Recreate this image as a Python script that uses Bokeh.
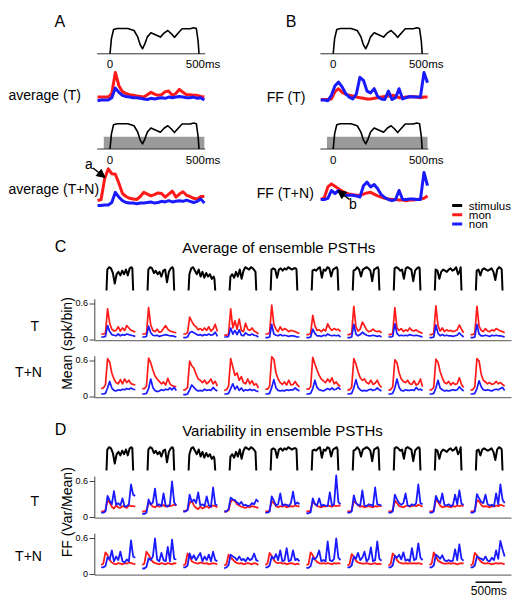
from bokeh.plotting import figure
from bokeh.layouts import column
from bokeh.models import Range1d, Arrow, NormalHead
from bokeh.core.properties import value
from bokeh.embed import file_html
from bokeh.resources import INLINE
import math

FONT = "Liberation Sans"
RED = "#ff1a1a"
BLUE = "#1a1aff"

# ---------------- data: panels A and B (time in ms re. stimulus onset) ----------------
T_AB = [-70, -50, -30, -10, 10, 30, 50, 70, 90, 110, 130, 150, 170, 190, 210, 230,
        250, 270, 290, 310, 330, 350, 370, 390, 410, 430, 450, 470, 490, 510, 530]

STIM_T = [0, 8, 20, 40, 100, 135, 155, 170, 183, 195, 210, 230, 255, 283, 305, 325,
          345, 362, 387, 405, 450, 470, 485, 495, 500]
STIM_V = [0, 0.6, 0.96, 1.0, 1.0, 0.92, 0.68, 0.35, 0.2, 0.38, 0.67, 0.83, 0.75, 0.66,
          0.83, 0.92, 0.79, 0.65, 0.85, 0.99, 0.99, 1.03, 1.0, 0.5, 0]
NOISE_ON, NOISE_OFF = -35, 530
STIM_AXIS = [-72, 535]
STIM_TICKS = [0, 500]
STIM_TICK_LABELS = ["0", "500ms"]

AVG_T_MON = [0.09, 0.09, 0.09, 0.09, 0.15, 0.50, 0.28, 0.18, 0.15, 0.13, 0.12, 0.11, 0.10, 0.09, 0.13, 0.17,
             0.14, 0.12, 0.13, 0.18, 0.19, 0.12, 0.15, 0.22, 0.17, 0.13, 0.13, 0.12, 0.12, 0.10, 0.09]
AVG_T_NON = [0.03, 0.04, 0.04, 0.04, 0.08, 0.24, 0.17, 0.12, 0.10, 0.09, 0.08, 0.08, 0.07, 0.06, 0.05, 0.07,
             0.06, 0.07, 0.08, 0.07, 0.09, 0.08, 0.09, 0.10, 0.09, 0.08, 0.08, 0.09, 0.07, 0.08, 0.04]
AVG_TN_MON = [0.13, 0.15, 0.50, 0.66, 0.58, 0.57, 0.42, 0.25, 0.20, 0.17, 0.16, 0.15, 0.20, 0.27, 0.24, 0.21,
              0.23, 0.26, 0.25, 0.19, 0.24, 0.29, 0.19, 0.24, 0.28, 0.22, 0.20, 0.17, 0.16, 0.20, 0.20]
AVG_TN_NON = [0.05, 0.05, 0.06, 0.06, 0.10, 0.27, 0.19, 0.13, 0.10, 0.09, 0.09, 0.08, 0.09, 0.09, 0.10, 0.11,
              0.09, 0.10, 0.12, 0.11, 0.13, 0.11, 0.12, 0.13, 0.12, 0.14, 0.12, 0.10, 0.12, 0.16, 0.09]

FF_T_MON = [0.15, 0.15, 0.15, 0.16, 0.28, 0.33, 0.27, 0.24, 0.22, 0.21, 0.19, 0.18, 0.17, 0.16, 0.16, 0.17,
            0.18, 0.19, 0.20, 0.21, 0.22, 0.21, 0.18, 0.18, 0.19, 0.19, 0.20, 0.19, 0.18, 0.19, 0.19]
FF_T_NON = [0.14, 0.14, 0.13, 0.22, 0.38, 0.44, 0.36, 0.25, 0.19, 0.16, 0.24, 0.52, 0.47, 0.29, 0.26, 0.33,
            0.20, 0.16, 0.15, 0.29, 0.15, 0.18, 0.33, 0.16, 0.18, 0.20, 0.19, 0.19, 0.19, 0.60, 0.43]
FF_TN_MON = [0.15, 0.18, 0.36, 0.41, 0.37, 0.33, 0.29, 0.26, 0.24, 0.23, 0.22, 0.22, 0.24, 0.26, 0.27, 0.24,
             0.21, 0.19, 0.17, 0.16, 0.15, 0.15, 0.14, 0.14, 0.13, 0.14, 0.14, 0.15, 0.16, 0.17, 0.21]
FF_TN_NON = [0.15, 0.15, 0.17, 0.30, 0.25, 0.30, 0.23, 0.22, 0.22, 0.22, 0.21, 0.19, 0.38, 0.44, 0.36, 0.40,
             0.33, 0.23, 0.18, 0.15, 0.13, 0.15, 0.30, 0.15, 0.15, 0.16, 0.16, 0.15, 0.15, 0.60, 0.38]

LEGEND_LABELS = ["stimulus", "mon", "non"]
LEGEND_COLORS = ["black", RED, BLUE]

# ---------------- data: panels C and D (10 stimuli) ----------------
N_COND = 10
PERIOD = 770  # ms between successive stimuli in the concatenated display
SC_T = [0, 15, 50, 85, 120, 155, 190, 225, 260, 295, 330, 365, 400, 435, 470, 485, 500]
STIMS = [
    [0, 0.9, 1.0, 0.95, 0.75, 0.3, 0.7, 0.8, 0.65, 0.85, 0.7, 0.9, 0.65, 0.95, 1.0, 0.95, 0],
    [0, 0.9, 1.0, 0.95, 0.75, 0.85, 0.7, 0.8, 0.6, 0.85, 0.9, 0.35, 0.8, 0.95, 1.0, 0.9, 0],
    [0, 0.7, 0.95, 1.0, 0.85, 0.7, 0.9, 0.6, 0.8, 0.55, 0.75, 0.6, 0.7, 0.5, 0.6, 0.5, 0],
    [0, 0.6, 0.7, 0.55, 0.8, 0.6, 0.9, 0.5, 0.85, 1.0, 0.95, 0.9, 1.0, 0.95, 0.85, 0.8, 0],
    [0, 0.9, 0.95, 0.9, 0.55, 0.9, 0.95, 0.85, 0.95, 0.9, 1.0, 0.95, 0.9, 0.95, 0.95, 0.9, 0],
    [0, 0.85, 0.9, 0.85, 0.95, 1.0, 0.55, 0.9, 0.85, 1.0, 0.95, 0.6, 0.9, 0.95, 1.0, 0.9, 0],
    [0, 0.85, 0.9, 1.0, 0.9, 0.6, 0.9, 0.95, 1.0, 0.95, 0.85, 0.4, 0.9, 0.95, 1.0, 0.9, 0],
    [0, 0.95, 1.0, 0.95, 0.85, 0.9, 0.5, 0.95, 1.0, 0.95, 0.9, 0.4, 0.85, 0.95, 1.0, 0.95, 0],
    [0, 0.9, 0.85, 0.5, 0.8, 0.9, 0.85, 0.8, 0.9, 0.95, 0.85, 0.9, 1.0, 0.7, 0.85, 1.0, 0],
    [0, 0.85, 0.9, 0.65, 0.9, 0.95, 0.9, 0.85, 0.9, 0.95, 0.8, 0.45, 0.9, 1.0, 0.95, 0.9, 0],
]
TC = [-100, -60, -20, 20, 60, 100, 140, 180, 220, 260, 300, 340, 380, 420, 460, 500, 540]

C_T_MON = [
    [0.10, 0.10, 0.11, 0.52, 0.28, 0.18, 0.15, 0.16, 0.22, 0.15, 0.20, 0.16, 0.24, 0.20, 0.16, 0.15, 0.13],
    [0.10, 0.10, 0.11, 0.54, 0.25, 0.16, 0.14, 0.18, 0.13, 0.14, 0.19, 0.24, 0.18, 0.15, 0.14, 0.13, 0.12],
    [0.10, 0.10, 0.12, 0.38, 0.31, 0.25, 0.22, 0.17, 0.19, 0.16, 0.20, 0.16, 0.22, 0.15, 0.18, 0.26, 0.14],
    [0.08, 0.08, 0.10, 0.52, 0.20, 0.32, 0.18, 0.35, 0.16, 0.14, 0.28, 0.18, 0.16, 0.20, 0.15, 0.13, 0.10],
    [0.10, 0.10, 0.12, 0.58, 0.26, 0.18, 0.14, 0.22, 0.16, 0.19, 0.17, 0.14, 0.16, 0.15, 0.14, 0.12, 0.11],
    [0.09, 0.09, 0.11, 0.41, 0.24, 0.16, 0.17, 0.14, 0.18, 0.15, 0.27, 0.20, 0.16, 0.19, 0.17, 0.18, 0.14],
    [0.09, 0.09, 0.11, 0.56, 0.22, 0.15, 0.18, 0.30, 0.24, 0.17, 0.14, 0.15, 0.18, 0.15, 0.14, 0.15, 0.12],
    [0.09, 0.09, 0.11, 0.54, 0.20, 0.16, 0.19, 0.14, 0.17, 0.15, 0.20, 0.16, 0.15, 0.17, 0.14, 0.13, 0.11],
    [0.09, 0.09, 0.11, 0.57, 0.24, 0.15, 0.20, 0.14, 0.17, 0.15, 0.16, 0.14, 0.15, 0.17, 0.25, 0.18, 0.12],
    [0.09, 0.09, 0.11, 0.56, 0.23, 0.16, 0.14, 0.19, 0.15, 0.14, 0.17, 0.15, 0.19, 0.17, 0.15, 0.14, 0.12],
]
C_T_NON = [
    [0.05, 0.05, 0.06, 0.24, 0.14, 0.09, 0.08, 0.07, 0.10, 0.07, 0.09, 0.08, 0.10, 0.09, 0.08, 0.07, 0.06],
    [0.05, 0.05, 0.06, 0.23, 0.12, 0.08, 0.07, 0.08, 0.06, 0.07, 0.08, 0.09, 0.08, 0.07, 0.07, 0.06, 0.05],
    [0.04, 0.04, 0.05, 0.12, 0.14, 0.12, 0.10, 0.08, 0.09, 0.07, 0.09, 0.08, 0.10, 0.08, 0.09, 0.13, 0.06],
    [0.05, 0.05, 0.06, 0.20, 0.10, 0.16, 0.09, 0.17, 0.08, 0.07, 0.12, 0.09, 0.08, 0.10, 0.08, 0.07, 0.05],
    [0.04, 0.04, 0.05, 0.26, 0.10, 0.08, 0.07, 0.09, 0.07, 0.08, 0.07, 0.06, 0.07, 0.07, 0.06, 0.05, 0.05],
    [0.04, 0.04, 0.05, 0.18, 0.11, 0.07, 0.07, 0.06, 0.08, 0.07, 0.10, 0.08, 0.07, 0.08, 0.07, 0.08, 0.05],
    [0.04, 0.04, 0.05, 0.26, 0.10, 0.07, 0.09, 0.13, 0.10, 0.08, 0.07, 0.07, 0.08, 0.07, 0.06, 0.07, 0.05],
    [0.05, 0.05, 0.06, 0.27, 0.11, 0.07, 0.08, 0.07, 0.08, 0.07, 0.09, 0.08, 0.07, 0.08, 0.07, 0.06, 0.05],
    [0.04, 0.04, 0.05, 0.25, 0.11, 0.07, 0.09, 0.07, 0.08, 0.07, 0.07, 0.06, 0.07, 0.08, 0.12, 0.08, 0.05],
    [0.04, 0.04, 0.05, 0.26, 0.10, 0.07, 0.07, 0.08, 0.07, 0.06, 0.08, 0.07, 0.08, 0.07, 0.07, 0.06, 0.05],
]
C_TN_MON = [
    [0.14, 0.15, 0.20, 0.64, 0.58, 0.40, 0.30, 0.24, 0.22, 0.29, 0.22, 0.30, 0.24, 0.28, 0.22, 0.21, 0.20],
    [0.14, 0.14, 0.18, 0.65, 0.57, 0.45, 0.35, 0.30, 0.26, 0.22, 0.25, 0.20, 0.31, 0.22, 0.19, 0.18, 0.17],
    [0.12, 0.12, 0.16, 0.60, 0.52, 0.48, 0.38, 0.30, 0.28, 0.24, 0.28, 0.22, 0.25, 0.30, 0.22, 0.26, 0.18],
    [0.11, 0.12, 0.18, 0.64, 0.50, 0.36, 0.40, 0.28, 0.34, 0.24, 0.22, 0.30, 0.22, 0.27, 0.20, 0.22, 0.15],
    [0.13, 0.13, 0.18, 0.67, 0.63, 0.40, 0.30, 0.24, 0.21, 0.25, 0.20, 0.28, 0.20, 0.21, 0.26, 0.20, 0.17],
    [0.13, 0.13, 0.17, 0.66, 0.55, 0.45, 0.36, 0.30, 0.27, 0.24, 0.30, 0.25, 0.32, 0.22, 0.25, 0.20, 0.18],
    [0.12, 0.12, 0.16, 0.64, 0.55, 0.42, 0.32, 0.28, 0.30, 0.24, 0.22, 0.28, 0.21, 0.23, 0.28, 0.20, 0.16],
    [0.12, 0.12, 0.17, 0.62, 0.57, 0.40, 0.30, 0.26, 0.24, 0.28, 0.22, 0.21, 0.27, 0.20, 0.22, 0.30, 0.17],
    [0.12, 0.12, 0.16, 0.63, 0.58, 0.42, 0.32, 0.24, 0.22, 0.26, 0.20, 0.24, 0.21, 0.22, 0.32, 0.21, 0.16],
    [0.12, 0.12, 0.17, 0.64, 0.60, 0.38, 0.28, 0.25, 0.22, 0.24, 0.21, 0.22, 0.26, 0.22, 0.24, 0.21, 0.18],
]
C_TN_NON = [
    [0.05, 0.05, 0.06, 0.15, 0.26, 0.15, 0.11, 0.10, 0.12, 0.11, 0.13, 0.12, 0.14, 0.13, 0.15, 0.13, 0.12],
    [0.05, 0.05, 0.06, 0.14, 0.30, 0.16, 0.11, 0.09, 0.10, 0.12, 0.11, 0.13, 0.12, 0.15, 0.12, 0.16, 0.11],
    [0.04, 0.04, 0.05, 0.12, 0.20, 0.16, 0.12, 0.10, 0.11, 0.10, 0.13, 0.11, 0.12, 0.11, 0.16, 0.12, 0.10],
    [0.05, 0.05, 0.06, 0.14, 0.22, 0.13, 0.18, 0.11, 0.15, 0.10, 0.12, 0.11, 0.13, 0.11, 0.12, 0.10, 0.09],
    [0.05, 0.05, 0.06, 0.16, 0.29, 0.15, 0.11, 0.10, 0.11, 0.10, 0.12, 0.11, 0.12, 0.12, 0.15, 0.12, 0.10],
    [0.05, 0.05, 0.06, 0.14, 0.28, 0.16, 0.12, 0.11, 0.10, 0.12, 0.14, 0.12, 0.15, 0.12, 0.13, 0.16, 0.12],
    [0.05, 0.05, 0.06, 0.15, 0.29, 0.16, 0.12, 0.10, 0.11, 0.10, 0.12, 0.13, 0.11, 0.12, 0.15, 0.12, 0.10],
    [0.05, 0.05, 0.06, 0.15, 0.30, 0.16, 0.11, 0.10, 0.12, 0.11, 0.11, 0.12, 0.11, 0.16, 0.12, 0.13, 0.11],
    [0.05, 0.05, 0.06, 0.15, 0.28, 0.15, 0.12, 0.10, 0.11, 0.10, 0.11, 0.12, 0.11, 0.12, 0.17, 0.13, 0.10],
    [0.05, 0.05, 0.06, 0.14, 0.27, 0.17, 0.12, 0.11, 0.12, 0.11, 0.10, 0.12, 0.13, 0.12, 0.14, 0.16, 0.11],
]

D_T_MON = [
    [0.10, 0.10, 0.12, 0.28, 0.25, 0.18, 0.15, 0.20, 0.17, 0.16, 0.19, 0.18, 0.16, 0.20, 0.19, 0.19, 0.18],
    [0.10, 0.10, 0.12, 0.25, 0.22, 0.18, 0.17, 0.20, 0.18, 0.19, 0.21, 0.18, 0.20, 0.19, 0.20, 0.21, 0.20],
    [0.11, 0.11, 0.13, 0.24, 0.28, 0.20, 0.16, 0.14, 0.18, 0.15, 0.17, 0.19, 0.16, 0.18, 0.20, 0.19, 0.17],
    [0.10, 0.10, 0.12, 0.26, 0.30, 0.27, 0.22, 0.20, 0.18, 0.17, 0.16, 0.18, 0.17, 0.19, 0.18, 0.17, 0.16],
    [0.10, 0.10, 0.12, 0.27, 0.24, 0.19, 0.17, 0.19, 0.18, 0.20, 0.17, 0.18, 0.19, 0.18, 0.20, 0.19, 0.18],
    [0.10, 0.10, 0.12, 0.26, 0.23, 0.19, 0.18, 0.17, 0.19, 0.18, 0.20, 0.19, 0.18, 0.20, 0.19, 0.20, 0.19],
    [0.10, 0.10, 0.12, 0.27, 0.25, 0.20, 0.18, 0.19, 0.17, 0.18, 0.19, 0.18, 0.17, 0.19, 0.18, 0.20, 0.18],
    [0.10, 0.10, 0.12, 0.28, 0.24, 0.19, 0.18, 0.17, 0.19, 0.20, 0.18, 0.19, 0.20, 0.19, 0.21, 0.20, 0.18],
    [0.10, 0.10, 0.12, 0.30, 0.26, 0.20, 0.17, 0.18, 0.19, 0.18, 0.17, 0.19, 0.18, 0.20, 0.19, 0.20, 0.19],
    [0.10, 0.10, 0.12, 0.29, 0.27, 0.21, 0.18, 0.19, 0.18, 0.17, 0.19, 0.18, 0.20, 0.19, 0.21, 0.20, 0.19],
]
D_T_NON = [
    [0.08, 0.08, 0.10, 0.36, 0.28, 0.22, 0.44, 0.21, 0.24, 0.20, 0.32, 0.18, 0.19, 0.22, 0.55, 0.38, 0.36],
    [0.06, 0.06, 0.08, 0.30, 0.22, 0.25, 0.48, 0.20, 0.22, 0.19, 0.40, 0.20, 0.18, 0.22, 0.60, 0.25, 0.20],
    [0.10, 0.10, 0.12, 0.38, 0.26, 0.30, 0.24, 0.42, 0.20, 0.22, 0.19, 0.35, 0.20, 0.18, 0.50, 0.22, 0.20],
    [0.10, 0.10, 0.14, 0.33, 0.30, 0.29, 0.25, 0.22, 0.26, 0.20, 0.21, 0.19, 0.20, 0.24, 0.22, 0.30, 0.26],
    [0.08, 0.08, 0.10, 0.35, 0.28, 0.20, 0.22, 0.40, 0.20, 0.22, 0.21, 0.19, 0.24, 0.43, 0.22, 0.25, 0.22],
    [0.07, 0.07, 0.09, 0.32, 0.22, 0.20, 0.32, 0.19, 0.21, 0.20, 0.19, 0.42, 0.20, 0.22, 0.70, 0.26, 0.22],
    [0.08, 0.08, 0.10, 0.37, 0.24, 0.21, 0.20, 0.45, 0.20, 0.19, 0.22, 0.21, 0.19, 0.50, 0.22, 0.21, 0.20],
    [0.08, 0.08, 0.10, 0.38, 0.30, 0.24, 0.21, 0.24, 0.40, 0.20, 0.19, 0.22, 0.20, 0.24, 0.55, 0.24, 0.22],
    [0.08, 0.08, 0.10, 0.36, 0.28, 0.24, 0.40, 0.21, 0.20, 0.22, 0.19, 0.21, 0.38, 0.22, 0.45, 0.23, 0.21],
    [0.08, 0.08, 0.10, 0.39, 0.32, 0.26, 0.24, 0.38, 0.22, 0.20, 0.21, 0.19, 0.40, 0.22, 0.55, 0.30, 0.24],
]
D_TN_MON = [
    [0.16, 0.18, 0.37, 0.32, 0.24, 0.20, 0.18, 0.17, 0.19, 0.18, 0.17, 0.19, 0.18, 0.20, 0.19, 0.18, 0.17],
    [0.16, 0.18, 0.38, 0.33, 0.26, 0.21, 0.19, 0.18, 0.17, 0.19, 0.18, 0.17, 0.19, 0.18, 0.17, 0.19, 0.18],
    [0.15, 0.17, 0.35, 0.30, 0.22, 0.20, 0.19, 0.18, 0.20, 0.19, 0.18, 0.19, 0.17, 0.18, 0.19, 0.18, 0.17],
    [0.15, 0.17, 0.33, 0.28, 0.25, 0.21, 0.19, 0.18, 0.19, 0.17, 0.18, 0.19, 0.18, 0.17, 0.19, 0.18, 0.16],
    [0.16, 0.18, 0.36, 0.31, 0.24, 0.20, 0.19, 0.20, 0.18, 0.19, 0.17, 0.18, 0.19, 0.18, 0.17, 0.18, 0.17],
    [0.16, 0.17, 0.37, 0.32, 0.25, 0.21, 0.19, 0.18, 0.19, 0.18, 0.19, 0.18, 0.17, 0.19, 0.18, 0.19, 0.18],
    [0.15, 0.17, 0.34, 0.30, 0.23, 0.20, 0.19, 0.18, 0.18, 0.19, 0.18, 0.17, 0.18, 0.19, 0.17, 0.18, 0.17],
    [0.15, 0.17, 0.35, 0.31, 0.24, 0.20, 0.19, 0.18, 0.19, 0.18, 0.19, 0.18, 0.19, 0.18, 0.19, 0.18, 0.17],
    [0.16, 0.18, 0.37, 0.30, 0.23, 0.21, 0.19, 0.18, 0.18, 0.19, 0.18, 0.19, 0.18, 0.17, 0.18, 0.19, 0.18],
    [0.15, 0.17, 0.36, 0.32, 0.25, 0.21, 0.19, 0.18, 0.19, 0.18, 0.17, 0.18, 0.19, 0.18, 0.19, 0.18, 0.17],
]
D_TN_NON = [
    [0.12, 0.12, 0.14, 0.29, 0.25, 0.40, 0.22, 0.30, 0.24, 0.38, 0.22, 0.20, 0.25, 0.22, 0.57, 0.30, 0.28],
    [0.10, 0.10, 0.13, 0.27, 0.24, 0.30, 0.60, 0.25, 0.22, 0.36, 0.24, 0.22, 0.46, 0.22, 0.58, 0.26, 0.25],
    [0.12, 0.12, 0.15, 0.35, 0.26, 0.32, 0.24, 0.30, 0.36, 0.22, 0.30, 0.24, 0.33, 0.22, 0.38, 0.24, 0.22],
    [0.10, 0.12, 0.16, 0.33, 0.30, 0.28, 0.24, 0.30, 0.24, 0.26, 0.22, 0.28, 0.24, 0.26, 0.35, 0.24, 0.22],
    [0.12, 0.12, 0.15, 0.30, 0.26, 0.34, 0.24, 0.40, 0.22, 0.24, 0.44, 0.22, 0.24, 0.40, 0.24, 0.26, 0.22],
    [0.11, 0.11, 0.14, 0.28, 0.25, 0.30, 0.40, 0.22, 0.24, 0.22, 0.55, 0.24, 0.22, 0.26, 0.60, 0.28, 0.24],
    [0.12, 0.12, 0.15, 0.30, 0.26, 0.36, 0.24, 0.28, 0.38, 0.22, 0.26, 0.45, 0.22, 0.24, 0.55, 0.26, 0.23],
    [0.12, 0.12, 0.15, 0.31, 0.28, 0.33, 0.25, 0.37, 0.23, 0.25, 0.22, 0.44, 0.24, 0.26, 0.52, 0.28, 0.24],
    [0.12, 0.12, 0.15, 0.33, 0.30, 0.26, 0.32, 0.24, 0.22, 0.24, 0.22, 0.23, 0.42, 0.24, 0.50, 0.26, 0.23],
    [0.12, 0.12, 0.15, 0.30, 0.28, 0.26, 0.24, 0.30, 0.23, 0.22, 0.28, 0.24, 0.40, 0.26, 0.56, 0.42, 0.30],
]
Y_TICKS = [0, 0.6]
Y_TICK_LABELS = ["0", "0.6"]
SCALE_BAR_MS = 500

# ---------------- layout helpers ----------------
KY = 60.0          # px per unit on response axes
KX_TOP = 0.178     # px per ms, panels A/B
KX_CD = 0.0533     # px per ms, panels C/D
PAGE_W = 520
TOP_H = 232        # top figure: page y 0..232
C_BOTTOM = 418     # C figure: page y 232..418; D figure: 418..598


def make_fig(w, h, xr, yr):
    p = figure(width=w, height=h, x_range=Range1d(*xr), y_range=Range1d(*yr),
               output_backend="svg", toolbar_location=None, tools="",
               x_axis_location=None, y_axis_location=None, min_border=0,
               outline_line_color=None)
    p.grid.visible = False
    p.background_fill_color = "white"
    p.border_fill_color = "white"
    return p


def label(p, x, y, s, size, align="left", angle=0.0, color="black", x_offset=0):
    p.text(x=[x], y=[y], text=[s], text_font=value(FONT), text_font_size=f"{size}px",
           text_align=align, text_baseline="middle", angle=angle, text_color=color,
           x_offset=x_offset)


# ===================== top figure: panels A & B =====================
def top_x(px):
    return (px - 109.5) / KX_TOP


def top_y(py):
    return (TOP_H - py) / KY


ptop = make_fig(PAGE_W, TOP_H, (top_x(0), top_x(PAGE_W)), (top_y(TOP_H), top_y(0)))

B_OFFSET = top_x(332.7)
S1 = top_y(53.3)
S2 = top_y(148.5)
SH = 25.3 / KY
NH = 12.3 / KY

panels = [
    (0.0, top_y(102), top_y(208), AVG_T_MON, AVG_T_NON, AVG_TN_MON, AVG_TN_NON),
    (B_OFFSET, top_y(108), top_y(208), FF_T_MON, FF_T_NON, FF_TN_MON, FF_TN_NON),
]
for ox, zT, zTN, tm, tn_, tnm, tnn in panels:
    ptop.quad(left=[ox + NOISE_ON], right=[ox + NOISE_OFF], bottom=[S2], top=[S2 + NH],
              fill_color="#9a9a9a", line_color=None)
    for base in (S1, S2):
        ptop.line([ox + STIM_AXIS[0], ox + STIM_AXIS[1]], [base, base], line_color="#333333", line_width=1)
        ptop.line([ox + t for t in STIM_T], [base + SH * v for v in STIM_V],
                  line_color="black", line_width=1.6, line_join="round")
        for tk, tl in zip(STIM_TICKS, STIM_TICK_LABELS):
            label(ptop, ox + tk, base - 10.5 / KY, tl, 11.5, align="center",
                  x_offset=(0 if tl == "0" else 4))
    for zero, mon, non in ((zT, tm, tn_), (zTN, tnm, tnn)):
        ptop.line([ox + t for t in T_AB], [zero + v for v in mon], line_color=RED,
                  line_width=3, line_join="round")
        ptop.line([ox + t for t in T_AB], [zero + v for v in non], line_color=BLUE,
                  line_width=3, line_join="round")

label(ptop, top_x(59.3), top_y(20.7), "A", 16, align="center")
label(ptop, top_x(290.7), top_y(20.7), "B", 16, align="center")
label(ptop, top_x(8), top_y(94), "average (T)", 14)
label(ptop, top_x(8), top_y(188.3), "average (T+N)", 14)
label(ptop, top_x(305), top_y(96.7), "FF (T)", 14, align="right")
label(ptop, top_x(313.3), top_y(192.7), "FF (T+N)", 14, align="right")

# arrows a and b
label(ptop, top_x(88.3), top_y(163.3), "a", 14, align="center")
ptop.add_layout(Arrow(end=NormalHead(size=8, fill_color="black", line_color="black"),
                      x_start=top_x(92.5), y_start=top_y(167.5), x_end=top_x(104.5), y_end=top_y(177),
                      line_width=1.5, line_color="black"))
label(ptop, top_x(352.3), top_y(203.5), "b", 14, align="center")
ptop.add_layout(Arrow(end=NormalHead(size=8, fill_color="black", line_color="black"),
                      x_start=top_x(349), y_start=top_y(199), x_end=top_x(337.3), y_end=top_y(190),
                      line_width=1.5, line_color="black"))

# legend
for i, (lab, col) in enumerate(zip(LEGEND_LABELS, LEGEND_COLORS)):
    yy = top_y(205 + 9.2 * i)
    ptop.line([top_x(451.7), top_x(461.7)], [yy, yy], line_color=col, line_width=3)
    label(ptop, top_x(468.3), yy, lab, 11.5)


# ===================== panels C & D =====================
def cd_x(px):
    return (px - 106.0) / KX_CD


def draw_ensemble(p, ypage, t_mon, t_non, tn_mon, tn_non, zT_page, zTN_page, stim_page, lw):
    zT = ypage(zT_page)
    zTN = ypage(zTN_page)
    zS = ypage(stim_page)
    sh = 23.3 / KY
    for i in range(N_COND):
        ox = i * PERIOD
        p.line([ox + t for t in SC_T], [zS + sh * v for v in STIMS[i]], line_color="black",
               line_width=2, line_join="round")
        for zero, mon, non in ((zT, t_mon[i], t_non[i]), (zTN, tn_mon[i], tn_non[i])):
            p.line([ox + t for t in TC], [zero + v for v in mon], line_color=RED, line_width=lw,
                   line_join="round")
            p.line([ox + t for t in TC], [zero + v for v in non], line_color=BLUE, line_width=lw,
                   line_join="round")
    ax = cd_x(94.3)
    for zero in (zT, zTN):
        p.line([ax, ax], [zero - 0.01, zero + 0.68], line_color="#444444", line_width=1)
        p.line([ax, cd_x(511)], [zero - 0.01, zero - 0.01], line_color="#777777", line_width=1.3)
        for tk, tl in zip(Y_TICKS, Y_TICK_LABELS):
            p.line([cd_x(89), ax], [zero + tk, zero + tk], line_color="#444444", line_width=1)
            label(p, cd_x(87.5), zero + tk + 0.015, tl, 9, align="right")


# ---- C ----
def c_y(py):
    return (396.5 - py) / KY


pC = make_fig(PAGE_W, C_BOTTOM - TOP_H, (cd_x(0), cd_x(PAGE_W)), (c_y(C_BOTTOM), c_y(TOP_H)))
draw_ensemble(pC, c_y, C_T_MON, C_T_NON, C_TN_MON, C_TN_NON, 339.5, 396.5, 290.0, 1.7)
label(pC, cd_x(60), c_y(246), "C", 16, align="center")
label(pC, cd_x(181.7), c_y(247), "Average of ensemble PSTHs", 15)
label(pC, cd_x(34.3), c_y(325), "T", 14, align="center")
label(pC, cd_x(28), c_y(371.7), "T+N", 14, align="center")
label(pC, cd_x(66.7), c_y(343), "Mean (spk/bin)", 14, align="center", angle=math.pi / 2)


# ---- D ----
def d_y(py):
    return (574.0 - py) / KY


pD = make_fig(PAGE_W, 180, (cd_x(0), cd_x(PAGE_W)), (d_y(598), d_y(C_BOTTOM)))
draw_ensemble(pD, d_y, D_T_MON, D_T_NON, D_TN_MON, D_TN_NON, 517.0, 574.0, 470.0, 1.8)
label(pD, cd_x(60), d_y(429.3), "D", 16, align="center")
label(pD, cd_x(181.7), d_y(430), "Variability in ensemble PSTHs", 15)
label(pD, cd_x(34.3), d_y(500), "T", 14, align="center")
label(pD, cd_x(28), d_y(555), "T+N", 14, align="center")
label(pD, cd_x(66.7), d_y(511.7), "FF (Var/Mean)", 14, align="center", angle=math.pi / 2)
# scale bar
sb0 = cd_x(475)
pD.line([sb0, sb0 + SCALE_BAR_MS], [d_y(581.7), d_y(581.7)], line_color="black", line_width=1.5)
label(pD, sb0 + SCALE_BAR_MS / 2, d_y(590), f"{SCALE_BAR_MS}ms", 12, align="center")

layout = column(ptop, pC, pD, spacing=0)
open("out.html", "w").write(file_html(layout, INLINE))
